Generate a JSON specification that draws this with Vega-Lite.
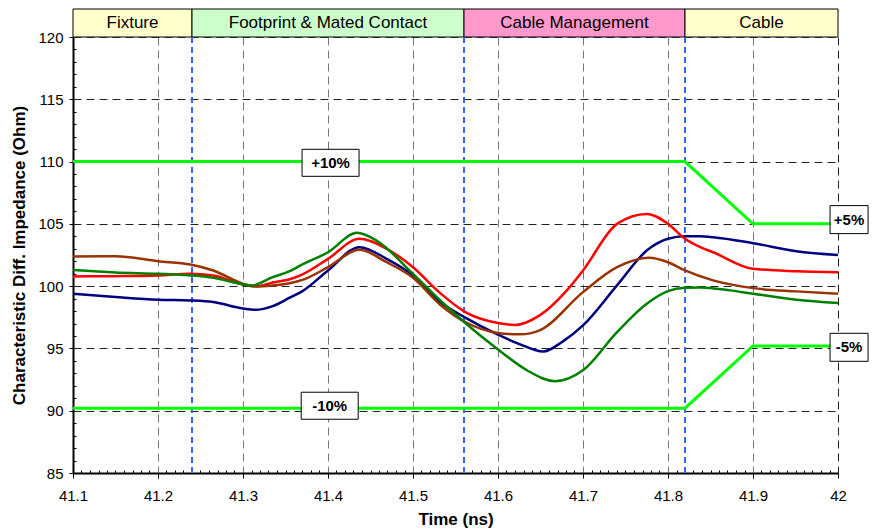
{
  "$schema": "https://vega.github.io/schema/vega-lite/v6.json",
  "padding": {"left": 10, "top": 8, "right": 4, "bottom": 4},
  "spacing": 0,
  "bounds": "flush",
  "resolve": {"scale": {"color": "independent"}},
  "config": {"view": {"stroke": null}, "font": "Liberation Sans"},
  "datasets": {
    "bands": [
      {"segment": "Fixture", "start": 41.1, "end": 41.24, "mid": 41.17},
      {"segment": "Footprint & Mated Contact", "start": 41.24, "end": 41.56, "mid": 41.4},
      {"segment": "Cable Management", "start": 41.56, "end": 41.82, "mid": 41.69},
      {"segment": "Cable", "start": 41.82, "end": 42.0, "mid": 41.91}
    ],
    "dividers": [{"t": 41.24}, {"t": 41.56}, {"t": 41.82}],
    "limits": [
      {"lim": "upper", "t": 41.1, "v": 110},
      {"lim": "upper", "t": 41.82, "v": 110},
      {"lim": "upper", "t": 41.9, "v": 105},
      {"lim": "upper", "t": 42.0, "v": 105},
      {"lim": "lower", "t": 41.1, "v": 90.2},
      {"lim": "lower", "t": 41.82, "v": 90.2},
      {"lim": "lower", "t": 41.9, "v": 95.2},
      {"lim": "lower", "t": 42.0, "v": 95.2}
    ],
    "labels": [
      {"label": "+10%", "kind": "wide", "t": 41.403, "v": 109.9},
      {"label": "-10%", "kind": "wide", "t": 41.402, "v": 90.4},
      {"label": "+5%", "kind": "narrow", "t": 42.013, "v": 105.34},
      {"label": "-5%", "kind": "narrow", "t": 42.013, "v": 95.09}
    ],
    "traces": [
      {"s": "A", "t": 41.1, "v": 99.39}, {"s": "A", "t": 41.15, "v": 99.13}, {"s": "A", "t": 41.2, "v": 98.91},
      {"s": "A", "t": 41.238, "v": 98.85}, {"s": "A", "t": 41.265, "v": 98.72}, {"s": "A", "t": 41.3, "v": 98.2},
      {"s": "A", "t": 41.315, "v": 98.1}, {"s": "A", "t": 41.335, "v": 98.4}, {"s": "A", "t": 41.355, "v": 99.07},
      {"s": "A", "t": 41.37, "v": 99.6}, {"s": "A", "t": 41.4, "v": 101.26}, {"s": "A", "t": 41.437, "v": 103.13},
      {"s": "A", "t": 41.469, "v": 102.19}, {"s": "A", "t": 41.5, "v": 100.86}, {"s": "A", "t": 41.532, "v": 98.72},
      {"s": "A", "t": 41.5615, "v": 97.47}, {"s": "A", "t": 41.6, "v": 96.1}, {"s": "A", "t": 41.626, "v": 95.33},
      {"s": "A", "t": 41.653, "v": 94.75}, {"s": "A", "t": 41.676, "v": 95.55}, {"s": "A", "t": 41.7, "v": 96.85},
      {"s": "A", "t": 41.74, "v": 100.06}, {"s": "A", "t": 41.775, "v": 102.86}, {"s": "A", "t": 41.8, "v": 103.8},
      {"s": "A", "t": 41.82, "v": 104.0}, {"s": "A", "t": 41.838, "v": 104.0}, {"s": "A", "t": 41.853, "v": 103.93},
      {"s": "A", "t": 41.9, "v": 103.45}, {"s": "A", "t": 41.951, "v": 102.8}, {"s": "A", "t": 42.0, "v": 102.5},

      {"s": "B", "t": 41.1, "v": 100.78}, {"s": "B", "t": 41.15, "v": 100.8}, {"s": "B", "t": 41.2, "v": 100.86},
      {"s": "B", "t": 41.238, "v": 100.99}, {"s": "B", "t": 41.265, "v": 100.86}, {"s": "B", "t": 41.3, "v": 100.14},
      {"s": "B", "t": 41.318, "v": 100.0}, {"s": "B", "t": 41.335, "v": 100.3}, {"s": "B", "t": 41.355, "v": 100.55},
      {"s": "B", "t": 41.37, "v": 100.95}, {"s": "B", "t": 41.4, "v": 102.19}, {"s": "B", "t": 41.437, "v": 103.8},
      {"s": "B", "t": 41.469, "v": 103.0}, {"s": "B", "t": 41.5, "v": 101.52}, {"s": "B", "t": 41.532, "v": 99.44},
      {"s": "B", "t": 41.5615, "v": 97.92}, {"s": "B", "t": 41.6, "v": 97.04}, {"s": "B", "t": 41.62, "v": 96.88},
      {"s": "B", "t": 41.649, "v": 97.65}, {"s": "B", "t": 41.681, "v": 99.66}, {"s": "B", "t": 41.7, "v": 101.26},
      {"s": "B", "t": 41.74, "v": 105.0}, {"s": "B", "t": 41.775, "v": 105.8}, {"s": "B", "t": 41.8, "v": 105.0},
      {"s": "B", "t": 41.82, "v": 103.8}, {"s": "B", "t": 41.838, "v": 103.13}, {"s": "B", "t": 41.853, "v": 102.72},
      {"s": "B", "t": 41.9, "v": 101.39}, {"s": "B", "t": 41.951, "v": 101.2}, {"s": "B", "t": 42.0, "v": 101.12},

      {"s": "C", "t": 41.1, "v": 102.38}, {"s": "C", "t": 41.15, "v": 102.4}, {"s": "C", "t": 41.2, "v": 102.0},
      {"s": "C", "t": 41.238, "v": 101.74}, {"s": "C", "t": 41.265, "v": 101.26}, {"s": "C", "t": 41.3, "v": 100.2},
      {"s": "C", "t": 41.312, "v": 99.98}, {"s": "C", "t": 41.335, "v": 100.05}, {"s": "C", "t": 41.355, "v": 100.24},
      {"s": "C", "t": 41.37, "v": 100.5}, {"s": "C", "t": 41.4, "v": 101.52}, {"s": "C", "t": 41.437, "v": 102.92},
      {"s": "C", "t": 41.469, "v": 101.92}, {"s": "C", "t": 41.5, "v": 100.67}, {"s": "C", "t": 41.532, "v": 98.51},
      {"s": "C", "t": 41.5615, "v": 97.12}, {"s": "C", "t": 41.6, "v": 96.24}, {"s": "C", "t": 41.626, "v": 96.13},
      {"s": "C", "t": 41.649, "v": 96.45}, {"s": "C", "t": 41.7, "v": 99.52}, {"s": "C", "t": 41.74, "v": 101.52},
      {"s": "C", "t": 41.778, "v": 102.28}, {"s": "C", "t": 41.8, "v": 101.92}, {"s": "C", "t": 41.82, "v": 101.26},
      {"s": "C", "t": 41.853, "v": 100.46}, {"s": "C", "t": 41.9, "v": 99.84}, {"s": "C", "t": 41.951, "v": 99.58},
      {"s": "C", "t": 42.0, "v": 99.39},

      {"s": "D", "t": 41.1, "v": 101.3}, {"s": "D", "t": 41.15, "v": 101.1}, {"s": "D", "t": 41.2, "v": 100.99},
      {"s": "D", "t": 41.238, "v": 100.86}, {"s": "D", "t": 41.265, "v": 100.67}, {"s": "D", "t": 41.3, "v": 100.14},
      {"s": "D", "t": 41.31, "v": 100.05}, {"s": "D", "t": 41.335, "v": 100.72}, {"s": "D", "t": 41.355, "v": 101.2},
      {"s": "D", "t": 41.37, "v": 101.74}, {"s": "D", "t": 41.4, "v": 102.72}, {"s": "D", "t": 41.434, "v": 104.28},
      {"s": "D", "t": 41.457, "v": 103.66}, {"s": "D", "t": 41.5, "v": 100.99}, {"s": "D", "t": 41.53, "v": 98.99},
      {"s": "D", "t": 41.5615, "v": 97.04}, {"s": "D", "t": 41.6, "v": 94.92}, {"s": "D", "t": 41.634, "v": 93.25},
      {"s": "D", "t": 41.667, "v": 92.37}, {"s": "D", "t": 41.7, "v": 93.25}, {"s": "D", "t": 41.74, "v": 96.31},
      {"s": "D", "t": 41.775, "v": 98.59}, {"s": "D", "t": 41.8, "v": 99.6}, {"s": "D", "t": 41.82, "v": 99.87},
      {"s": "D", "t": 41.838, "v": 99.9}, {"s": "D", "t": 41.873, "v": 99.66}, {"s": "D", "t": 41.9, "v": 99.39},
      {"s": "D", "t": 41.951, "v": 98.91}, {"s": "D", "t": 42.0, "v": 98.64}
    ]
  },
  "vconcat": [
    {
      "width": 765,
      "height": 28,
      "data": {"name": "bands"},
      "layer": [
        {
          "mark": {"type": "rect", "stroke": "black", "strokeWidth": 1},
          "encoding": {
            "x": {"field": "start", "type": "quantitative", "scale": {"domain": [41.1, 42], "nice": false, "zero": false}, "axis": null},
            "x2": {"field": "end"},
            "color": {"field": "segment", "type": "nominal", "legend": null,
              "scale": {"domain": ["Fixture", "Footprint & Mated Contact", "Cable Management", "Cable"],
                        "range": ["#FFFFCC", "#CCFFCC", "#FF99CC", "#FFFFCC"]}}
          }
        },
        {
          "mark": {"type": "text", "fontSize": 17, "font": "Liberation Sans", "color": "black", "baseline": "middle"},
          "encoding": {
            "x": {"field": "mid", "type": "quantitative", "scale": {"domain": [41.1, 42], "nice": false, "zero": false}, "axis": null},
            "text": {"field": "segment"}
          }
        }
      ]
    },
    {
      "width": 765,
      "height": 436,
      "layer": [
        {
          "data": {"name": "dividers"},
          "mark": {"type": "rule", "color": "#3366FF", "strokeWidth": 2, "strokeDash": [6, 4]},
          "encoding": {
            "x": {"field": "t", "type": "quantitative",
              "scale": {"domain": [41.1, 42], "nice": false, "zero": false},
              "axis": {
                "title": "Time (ns)",
                "titleFont": "Liberation Sans", "titleFontSize": 17, "titleFontWeight": "bold", "titleColor": "black", "titlePadding": 8,
                "tickCount": 1000,
                "values": [41.1,41.11,41.12,41.13,41.14,41.15,41.16,41.17,41.18,41.19,
                           41.2,41.21,41.22,41.23,41.24,41.25,41.26,41.27,41.28,41.29,
                           41.3,41.31,41.32,41.33,41.34,41.35,41.36,41.37,41.38,41.39,
                           41.4,41.41,41.42,41.43,41.44,41.45,41.46,41.47,41.48,41.49,
                           41.5,41.51,41.52,41.53,41.54,41.55,41.56,41.57,41.58,41.59,
                           41.6,41.61,41.62,41.63,41.64,41.65,41.66,41.67,41.68,41.69,
                           41.7,41.71,41.72,41.73,41.74,41.75,41.76,41.77,41.78,41.79,
                           41.8,41.81,41.82,41.83,41.84,41.85,41.86,41.87,41.88,41.89,
                           41.9,41.91,41.92,41.93,41.94,41.95,41.96,41.97,41.98,41.99,42],
                "labelExpr": "abs(datum.value*10 - round(datum.value*10)) < 0.001 ? format(datum.value, '~g') : ''",
                "labelFont": "Liberation Sans", "labelFontSize": 15, "labelColor": "black", "labelPadding": 10,
                "labelOverlap": false, "labelFlush": false,
                "domainColor": "black", "domainWidth": 2,
                "tickColor": "black", "tickWidth": 1,
                "tickSize": {"condition": {"test": "abs(datum.value*10 - round(datum.value*10)) < 0.001", "value": 5}, "value": -3},
                "grid": true,
                "gridDash": [8, 5],
                "gridWidth": 1,
                "gridColor": {"condition": {"test": "datum.value > 41.999", "value": "#222222"}, "value": "#777777"},
                "gridOpacity": {"condition": {"test": "abs(datum.value*10 - round(datum.value*10)) < 0.001", "value": 1}, "value": 0}
              }
            }
          }
        },
        {
          "data": {"name": "limits"},
          "mark": {"type": "line", "color": "#00FF00", "strokeWidth": 3},
          "encoding": {
            "x": {"field": "t", "type": "quantitative"},
            "y": {"field": "v", "type": "quantitative",
              "scale": {"domain": [85, 120], "nice": false, "zero": false},
              "axis": {
                "title": "Characteristic Diff. Impedance (Ohm)",
                "titleFont": "Liberation Sans", "titleFontSize": 17, "titleFontWeight": "bold", "titleColor": "black", "titlePadding": 9,
                "tickCount": 1000,
                "values": [85,86,87,88,89,90,91,92,93,94,95,96,97,98,99,100,101,102,103,104,105,106,107,108,109,110,111,112,113,114,115,116,117,118,119,120],
                "labelExpr": "datum.value % 5 == 0 ? format(datum.value, 'd') : ''",
                "labelFont": "Liberation Sans", "labelFontSize": 15, "labelColor": "black", "labelPadding": 6,
                "labelOverlap": false, "labelFlush": false,
                "domainColor": "black", "domainWidth": 2,
                "tickColor": "black", "tickWidth": 1,
                "tickSize": {"condition": {"test": "datum.value % 5 == 0", "value": 4}, "value": -3},
                "grid": true,
                "gridDash": [8, 5],
                "gridWidth": 1,
                "gridColor": "#222222",
                "gridOpacity": {"condition": {"test": "datum.value % 5 == 0 && datum.value > 85", "value": 1}, "value": 0}
              }
            },
            "detail": {"field": "lim"}
          }
        },
        {
          "data": {"name": "traces"},
          "mark": {"type": "line", "strokeWidth": 2.5, "interpolate": "monotone"},
          "encoding": {
            "x": {"field": "t", "type": "quantitative"},
            "y": {"field": "v", "type": "quantitative"},
            "color": {"field": "s", "type": "nominal", "legend": null,
              "scale": {"domain": ["A", "B", "C", "D"], "range": ["#000080", "#FF0000", "#993300", "#008000"]}}
          }
        },
        {
          "data": {"name": "labels"},
          "transform": [{"filter": "datum.kind == 'wide'"}],
          "mark": {"type": "point", "filled": true, "fill": "white", "stroke": "black", "strokeWidth": 1, "opacity": 1, "fillOpacity": 1, "clip": false,
                   "shape": "M-1,-0.474L1,-0.474L1,0.474L-1,0.474Z", "size": 3249},
          "encoding": {
            "x": {"field": "t", "type": "quantitative"},
            "y": {"field": "v", "type": "quantitative"}
          }
        },
        {
          "data": {"name": "labels"},
          "transform": [{"filter": "datum.kind == 'narrow'"}],
          "mark": {"type": "point", "filled": true, "fill": "white", "stroke": "black", "strokeWidth": 1, "opacity": 1, "fillOpacity": 1, "clip": false,
                   "shape": "M-1,-0.737L1,-0.737L1,0.737L-1,0.737Z", "size": 1444},
          "encoding": {
            "x": {"field": "t", "type": "quantitative"},
            "y": {"field": "v", "type": "quantitative"}
          }
        },
        {
          "data": {"name": "labels"},
          "mark": {"type": "text", "fontSize": 15, "fontWeight": "bold", "font": "Liberation Sans", "color": "black", "baseline": "middle", "clip": false},
          "encoding": {
            "x": {"field": "t", "type": "quantitative"},
            "y": {"field": "v", "type": "quantitative"},
            "text": {"field": "label"}
          }
        }
      ]
    }
  ]
}
